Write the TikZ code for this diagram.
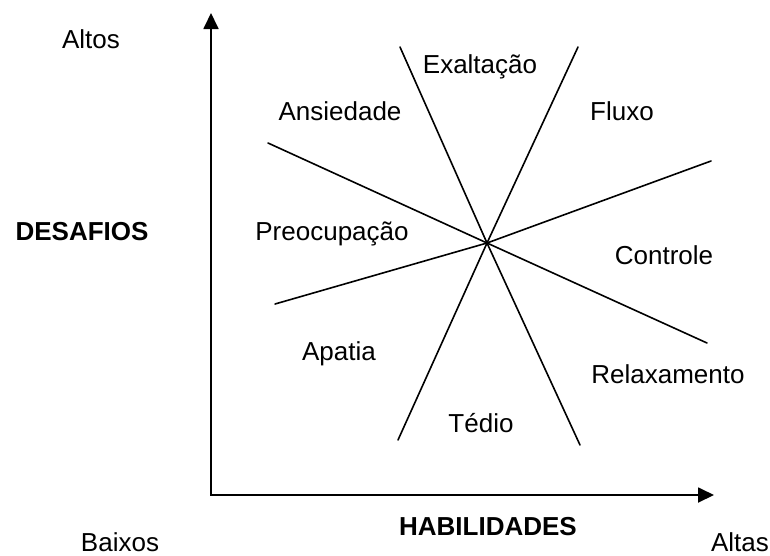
\documentclass[tikz,border=0pt]{standalone}
\usepackage{fontspec}
\setmainfont{Liberation Sans}
\usetikzlibrary{arrows.meta}
\begin{document}
\begin{tikzpicture}[x=1pt,y=-1pt,
  lbl/.style={anchor=base,inner sep=0pt,font=\fontsize{26}{30}\selectfont},
  blbl/.style={lbl,font=\fontsize{26}{30}\selectfont\bfseries},
  axisline/.style={line width=1.8pt,-{Triangle[length=16pt,width=15pt]}},
  ray/.style={line width=1.6pt,line cap=round}]
\useasboundingbox (0,0) rectangle (770,555);
% axes
\coordinate (O) at (211,495);
\coordinate (Ytip) at (211,13);
\coordinate (Xtip) at (714,495);
\draw[axisline] ([yshift=-0.9pt]O) -- (Ytip);
\draw[axisline] ([xshift=-0.9pt]O) -- (Xtip);
% rays
\coordinate (C) at (487,243);
\coordinate (At) at (400,47);
\coordinate (Ab) at (580,445);
\coordinate (Bt) at (578,47);
\coordinate (Bb) at (398,440);
\coordinate (Cl) at (268,143);
\coordinate (Cr) at (707,343);
\coordinate (Dl) at (275,304);
\coordinate (Dr) at (711,161);
\foreach \p in {At,Ab,Bt,Bb,Cl,Cr,Dl,Dr}{\draw[ray] (C) -- (\p);}
% labels
\node[lbl] (altos) at (91,48) {Altos};
\node[blbl] (desafios) at (82,240) {DESAFIOS};
\node[lbl] (baixos) at (120,551) {Baixos};
\node[lbl] (altas) at (740,551) {Altas};
\node[blbl] (habil) at (488,535) {HABILIDADES};
\node[lbl] (exalt) at (480,73) {Exaltação};
\node[lbl] (ansied) at (340,120) {Ansiedade};
\node[lbl] (fluxo) at (622,120) {Fluxo};
\node[lbl] (preoc) at (332,240) {Preocupação};
\node[lbl] (contr) at (664,264) {Controle};
\node[lbl] (apatia) at (339,360) {Apatia};
\node[lbl] (relax) at (668,383) {Relaxamento};
\node[lbl] (tedio) at (481,432) {Tédio};
\end{tikzpicture}
\end{document}
